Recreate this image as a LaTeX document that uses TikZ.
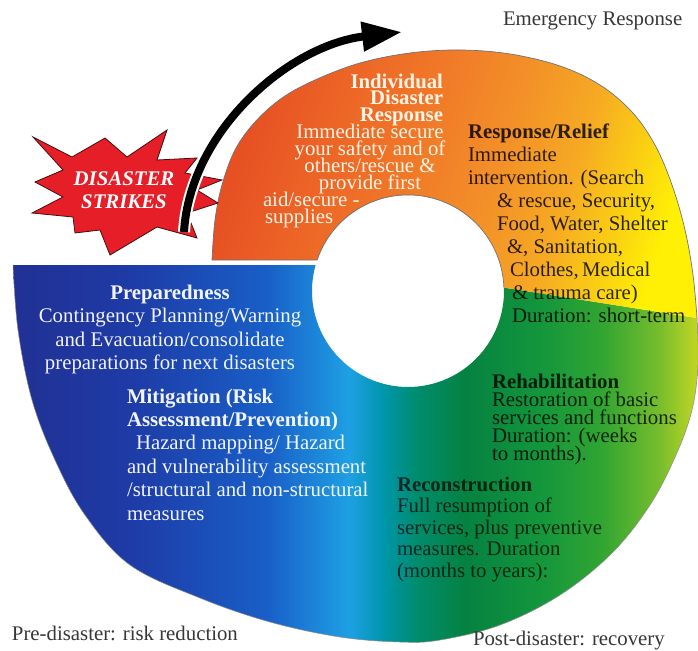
\documentclass[tikz,border=0pt]{standalone}
\usepackage{fontspec}
\setmainfont{Liberation Serif}
\usetikzlibrary{arrows.meta}
\pgfdeclarehorizontalshading{lowershade}{100bp}{%
 rgb(0bp)=(0.13,0.19,0.58);
 rgb(25bp)=(0.13,0.19,0.58);
 rgb(33.5bp)=(0.118,0.23,0.65);
 rgb(43.5bp)=(0.098,0.37,0.78);
 rgb(49.5bp)=(0.118,0.627,0.894);
 rgb(52bp)=(0,0.588,0.667);
 rgb(54.4bp)=(0,0.549,0.431);
 rgb(58bp)=(0.02,0.51,0.255);
 rgb(63.5bp)=(0.078,0.588,0.235);
 rgb(68bp)=(0.196,0.647,0.196);
 rgb(72.2bp)=(0.471,0.745,0.176);
 rgb(75bp)=(0.765,0.843,0.137);
 rgb(100bp)=(0.765,0.843,0.137)}
\pgfdeclarehorizontalshading{uppershade}{100bp}{%
 rgb(0bp)=(0.902,0.314,0.137);
 rgb(25bp)=(0.902,0.314,0.137);
 rgb(34bp)=(0.925,0.392,0.149);
 rgb(44.3bp)=(0.941,0.471,0.157);
 rgb(54.6bp)=(0.953,0.569,0.157);
 rgb(62.8bp)=(0.965,0.667,0.137);
 rgb(69bp)=(0.98,0.804,0.078);
 rgb(75bp)=(1,0.941,0.02);
 rgb(100bp)=(1,0.941,0.02)}
\definecolor{starred}{RGB}{230,30,40}
\definecolor{staredge}{RGB}{70,15,15}
\definecolor{labelgray}{RGB}{55,55,55}
\definecolor{cream}{RGB}{255,244,230}
\definecolor{paleblue}{RGB}{242,244,255}
\newcommand\tightlines{\lineskiplimit=-50pt\relax\lineskip=0pt\relax}
\newcommand\fsz[1]{\fontsize{20.8}{#1}\selectfont\tightlines}
\begin{document}
\begin{tikzpicture}[x=1pt,y=-1pt,
  every node/.style={inner sep=0pt, outer sep=0pt},
  txt/.style={font=\fsz{23.3}},
  outline/.style={draw=black!55, line width=0.7pt},
  darktext/.style={text=black, text opacity=0.82}]
\useasboundingbox (0,0) rectangle (698,650);
\fill[white] (0,0) rectangle (698,650);

% lower (blue-green) piece
\shade[shading=lowershade]
  (13,265) -- (315.6,265) arc[start angle=195.71, end angle=-2, radius=96]
  -- (697,318) -- plot[smooth, tension=0.6] coordinates {(697,318) (698,365) (692,410) (676,455) (650,505) (612,553) (560,595) (500,625) (440,640) (400,642) (340,637) (270,622) (200,598) (130,565) (85,515) (55,460) (32,400) (18,330) (13,265)} -- cycle;
\draw[draw=black!45, line width=0.5pt]
  plot[smooth, tension=0.6] coordinates {(697,318) (698,365) (692,410) (676,455) (650,505) (612,553) (560,595) (500,625) (440,640) (400,642) (340,637) (270,622) (200,598) (130,565) (85,515) (55,460) (32,400) (18,330) (13,265)};

% upper (orange-yellow) piece
\shade[shading=uppershade, shading angle=-18]
  (212,260) -- (317.2,260) arc[start angle=198.84, end angle=358, radius=96]
  -- (697,318) -- plot[smooth, tension=0.6] coordinates {(697,318) (693,275) (685,230) (672,185) (655,145) (632,112) (600,85) (560,66) (510,54) (460,50) (410,53) (360,63) (315,80) (282,98) (255,122) (235,150) (222,185) (215,220) (212,260)} -- cycle;
\draw[outline]
  (503.9,287.6) arc[start angle=358, end angle=198.84, radius=96] -- (212,260)
  -- plot[smooth, tension=0.6] coordinates {(212,260) (215,220) (222,185) (235,150) (255,122) (282,98) (315,80) (360,63) (410,53) (460,50) (510,54) (560,66) (600,85) (632,112) (655,145) (672,185) (685,230) (693,275) (697,318)};

% disaster star
\draw[fill=starred, draw=staredge, line width=0.8pt]
  (33,137) -- (72,157) -- (105,138) -- (127,157) -- (167,130) -- (157,160)
  -- (197,158) -- (185,173) -- (222,180) -- (197,190) -- (218,203) -- (187,213)
  -- (197,238) -- (157,227) -- (110,255) -- (100,230) -- (75,233) -- (73,217)
  -- (32,213) -- (63,197) -- (35,182) -- (63,170) -- cycle;
\node[font=\fsz{23}\bfseries\itshape, text=white, align=center, anchor=base] (strike) at (124,208) {DISASTER\\STRIKES};

% arrow
\coordinate (arrstart) at (184,232);
\coordinate (arrend) at (402,32);
\draw[white, line width=12pt] (arrstart) .. controls (190,130) and (290,45) .. (arrend);
\draw[black, line width=8pt, -{Triangle[length=40pt,width=28pt]}] (arrstart) .. controls (190,130) and (290,45) .. (arrend);

% texts (multi-line nodes: base anchor = last line's baseline)
\node[txt, anchor=base west, text=labelgray] (emerg) at (503,26) {Emergency Response};

\node[font=\fsz{16.6}\bfseries, anchor=base east, align=right, text=cream] (indtitle) at (443,121.2) {Individual\\Disaster\\Response};
\node[font=\fsz{17}, anchor=base, align=center, text=cream] (indbody) at (370,189) {Immediate secure\\your safety and of\\others/rescue \&\\provide first};
\node[font=\fsz{17}, anchor=base west, align=left, text=cream] (indtail) at (263,223) {aid/secure -\\\hspace*{2pt}supplies};

\node[font=\fsz{23.1}, anchor=base west, align=left, darktext] (relief) at (468,322.8) {\textbf{Response/Relief}\\Immediate\\intervention. (Search\\\hspace*{29pt}\& rescue, Security,\\\hspace*{29pt}Food, Water, Shelter\\\hspace*{39pt}\&, Sanitation,\\\hspace*{42pt}Clothes,\,Medical\\\hspace*{44pt}\& trauma care)\\\hspace*{44pt}Duration: short-term};

\node[font=\fsz{23.5}, anchor=base, align=center, text=paleblue] (prep) at (170,369.5) {\textbf{Preparedness}\\Contingency Planning/Warning\\and Evacuation/consolidate\\preparations for next disasters};

\node[font=\fsz{23.4}, anchor=base west, align=left, text=paleblue] (mitig) at (127,520) {\textbf{Mitigation (Risk}\\\textbf{Assessment/Prevention)}\\\hspace*{9pt}Hazard mapping/ Hazard\\and vulnerability assessment\\/structural and non-structural\\measures};

\node[font=\fsz{18}, anchor=base west, align=left, text=black, text opacity=0.8] (rehab) at (492,460) {\textbf{Rehabilitation}\\Restoration of basic\\services and functions\\Duration: (weeks\\to months).};

\node[font=\fsz{21.5}, anchor=base west, align=left, text=black, text opacity=0.72] (recon) at (397,577) {\textbf{Reconstruction}\\Full resumption of\\services, plus preventive\\measures. Duration\\(months to years):};

\node[txt, anchor=base west, text=labelgray] (pre) at (12,640) {Pre-disaster: risk reduction};
\node[txt, anchor=base west, text=labelgray] (post) at (473,645) {Post-disaster: recovery};
\end{tikzpicture}
\end{document}
